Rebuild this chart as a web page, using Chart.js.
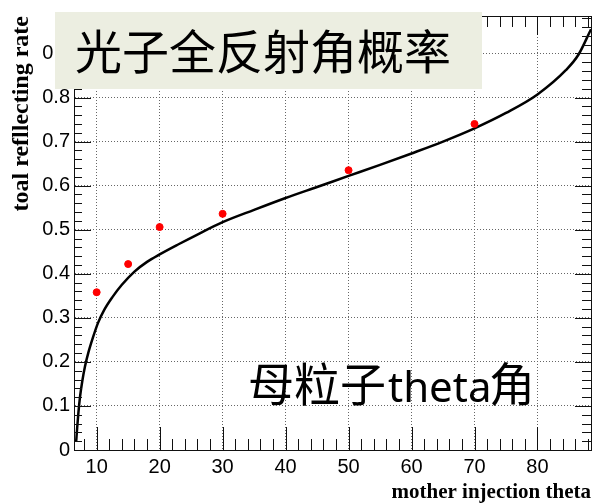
<!DOCTYPE html>
<html>
<head>
<meta charset="utf-8">
<script src="https://cdn.jsdelivr.net/npm/chart.js@4.4.1/dist/chart.umd.min.js"></script>
<style>
  html, body { margin: 0; padding: 0; background: #fff; }
  canvas { display: block; }
</style>
</head>
<body>
<canvas id="grafico" width="596" height="503"></canvas>
<script>
// ---------------- DADOS ----------------
// pontos vermelhos (medidos)
const thetaPontos = [10, 15, 20, 30, 50, 70];
const taxaPontos = [0.358, 0.422, 0.506, 0.536, 0.635, 0.740];

// curva preta
const thetaCurva = [6.75, 6.9, 7.1, 7.35, 7.7, 8.15, 8.7, 9.4, 10.2, 11.2, 12.5, 14, 16, 18, 20, 23, 26, 30, 35, 40, 45, 50, 55, 60, 65, 70, 75, 80, 84.5, 86.5, 88.5];
const taxaCurva = [0.02, 0.05, 0.085, 0.12, 0.155, 0.19, 0.222, 0.255, 0.288, 0.318, 0.347, 0.375, 0.405, 0.427, 0.444, 0.467, 0.489, 0.517, 0.545, 0.572, 0.597, 0.622, 0.647, 0.673, 0.700, 0.730, 0.765, 0.807, 0.862, 0.897, 0.955];

const xTicks = [10, 20, 30, 40, 50, 60, 70, 80];
const yTicks = [0, 0.1, 0.2, 0.3, 0.4, 0.5, 0.6, 0.7, 0.8, 0.9];

const tituloX = "mother injection theta";
const tituloY = "toal refllecting rate";
const textoCaixa = "光子全反射角概率";
const textoBaixo = ["母粒子", "theta", "角"];

// ---------------- MOLDURA ESTILO ROOT ----------------
const molduraRoot = {
  id: "molduraRoot",
  afterDraw(chart) {
    const c = chart.ctx;
    const a = chart.chartArea;
    const xs = chart.scales.x;
    const ys = chart.scales.y;

    c.save();
    c.strokeStyle = "#111";
    c.lineWidth = 1;

    // ticks no eixo x (baixo e cima), a cada 2
    for (let v = 8; v <= xs.max; v += 2) {
      const px = Math.round(xs.getPixelForValue(v)) + 0.5;
      const major = v % 10 === 0;
      c.beginPath();
      c.moveTo(px, a.bottom);
      c.lineTo(px, a.bottom - (major ? 23 : 11));
      c.moveTo(px, a.top);
      c.lineTo(px, a.top + (major ? 19 : 11));
      c.stroke();
    }

    // ticks no eixo y (esquerda e direita), a cada 0.02
    for (let i = 1; i * 0.02 <= ys.max; i++) {
      const py = Math.round(ys.getPixelForValue(i * 0.02)) + 0.5;
      const major = i % 5 === 0;
      c.beginPath();
      c.moveTo(a.left, py);
      c.lineTo(a.left + (major ? 17 : 8), py);
      c.moveTo(a.right, py);
      c.lineTo(a.right - (major ? 16 : 9), py);
      c.stroke();
    }

    // moldura
    c.strokeRect(Math.round(a.left) + 0.5, Math.round(a.top) + 0.5,
      Math.round(a.right - a.left), Math.round(a.bottom - a.top));

    // caixa do titulo
    c.fillStyle = "#eceee1";
    c.fillRect(55, 12, 427, 77);
    c.fillStyle = "#000";
    c.font = "47px 'Noto Sans CJK SC'";
    c.textBaseline = "alphabetic";
    c.textAlign = "left";
    c.fillText(textoCaixa, 75, 69);

    // texto de baixo
    c.font = "46px 'Noto Sans CJK SC'";
    c.fillText(textoBaixo[0], 248, 401);
    c.font = "42px 'Noto Sans'";
    c.fillText(textoBaixo[1], 388, 402);
    c.font = "46px 'Noto Sans CJK SC'";
    c.fillText(textoBaixo[2], 489, 401);

    c.restore();
  }
};

// ---------------- GRAFICO ----------------
new Chart(document.getElementById("grafico"), {
  type: "scatter",
  data: {
    datasets: [
      {
        label: "curva",
        data: thetaCurva.map((x, i) => ({ x, y: taxaCurva[i] })),
        showLine: true,
        borderColor: "#000",
        borderWidth: 2.5,
        pointRadius: 0,
        cubicInterpolationMode: "monotone",
        order: 2
      },
      {
        label: "pontos",
        data: thetaPontos.map((x, i) => ({ x, y: taxaPontos[i] })),
        backgroundColor: "#ff0000",
        borderColor: "#ff0000",
        pointRadius: 3.5,
        order: 1
      }
    ]
  },
  options: {
    responsive: false,
    animation: false,
    layout: { padding: { top: 7, right: 3, left: 0, bottom: 0 } },
    plugins: {
      legend: { display: false },
      tooltip: { enabled: false }
    },
    scales: {
      x: {
        type: "linear",
        min: 6.4,
        max: 88.5,
        afterFit: (s) => { s.height = 53; },
        afterBuildTicks: (s) => { s.ticks = xTicks.map(v => ({ value: v })); },
        ticks: {
          color: "#000",
          font: { family: "'Liberation Sans', Arial", size: 20 },
          padding: 5,
          maxRotation: 0
        },
        grid: { color: "#666", lineWidth: 1, drawTicks: false },
        border: { display: true, color: "#000", dash: [1, 2] },
        title: {
          display: true,
          text: tituloX,
          align: "end",
          color: "#000",
          font: { family: "'Liberation Serif', 'Times New Roman'", size: 21, weight: "bold", lineHeight: 1 },
          padding: 0
        }
      },
      y: {
        type: "linear",
        min: 0,
        max: 0.985,
        afterFit: (s) => { s.width = 74; },
        afterBuildTicks: (s) => { s.ticks = yTicks.map(v => ({ value: v })); },
        ticks: {
          color: "#000",
          font: { family: "'Liberation Sans', Arial", size: 20 },
          padding: 4,
          callback: (v) => v === 0 ? "0" : v.toFixed(1)
        },
        grid: { color: "#666", lineWidth: 1, drawTicks: false },
        border: { display: true, color: "#000", dash: [1, 2] },
        title: {
          display: true,
          text: tituloY,
          align: "end",
          color: "#000",
          font: { family: "'Liberation Serif', 'Times New Roman'", size: 24, weight: "bold", lineHeight: 1 },
          padding: { top: 10, bottom: 0 }
        }
      }
    }
  },
  plugins: [molduraRoot]
});
</script>
</body>
</html>
